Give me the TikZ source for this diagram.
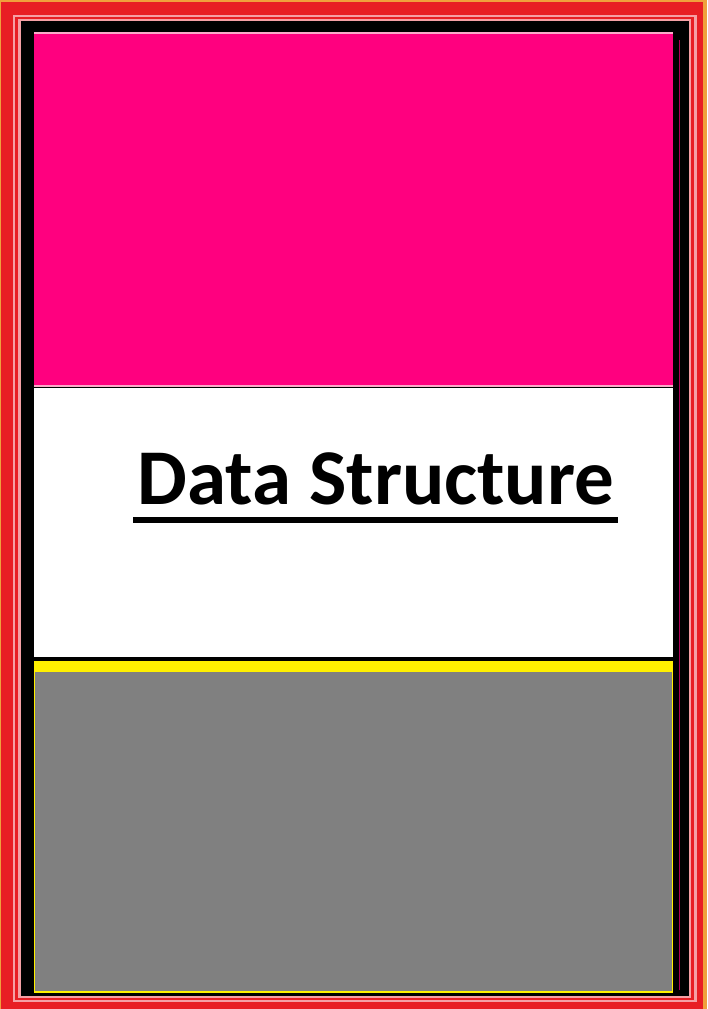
\documentclass[tikz,border=0pt]{standalone}
\usepackage{fontspec}
\setmainfont{Carlito}
\definecolor{frameorange}{RGB}{240,160,60}
\definecolor{framered}{RGB}{232,30,36}
\definecolor{framepink}{RGB}{245,160,165}
\definecolor{topmagenta}{RGB}{255,0,127}
\definecolor{lightpink}{RGB}{250,170,200}
\definecolor{midgray}{RGB}{128,128,128}
\definecolor{bandyellow}{RGB}{255,240,0}
\begin{document}
\begin{tikzpicture}[x=1pt,y=-1pt]
\useasboundingbox (0,0) rectangle (707,1009);
% frame stripes
\fill[frameorange] (0,0) rectangle (707,1009);
\fill[framered] (1,2) rectangle (703,1009);
\fill[framepink] (13,15) rectangle (697,1002);
\fill[framered] (15,17) rectangle (694,1000);
\fill[framepink] (18,19) rectangle (691,998);
\fill[black] (21,21) rectangle (689,996);
\draw[topmagenta!70!black, line width=1pt] (679,40) -- (679,990);
% top magenta panel
\fill[lightpink] (34,32) rectangle (673,34);
\fill[topmagenta] (34,34) rectangle (673,385);
\fill[lightpink] (34,385) rectangle (673,387);
% middle white panel
\fill[white] (34,388) rectangle (673,657);
% yellow band and gray panel
\fill[bandyellow] (34,661) rectangle (673,672);
\fill[bandyellow] (34,672) rectangle (673,993);
\fill[midgray] (35,672) rectangle (672,991);
% title
\node[font=\bfseries\fontsize{79}{86}\selectfont, anchor=base, inner sep=0pt] (title) at (376,504) {Data Structure};
\fill[black] (133,517) rectangle (618,523);
\end{tikzpicture}
\end{document}
